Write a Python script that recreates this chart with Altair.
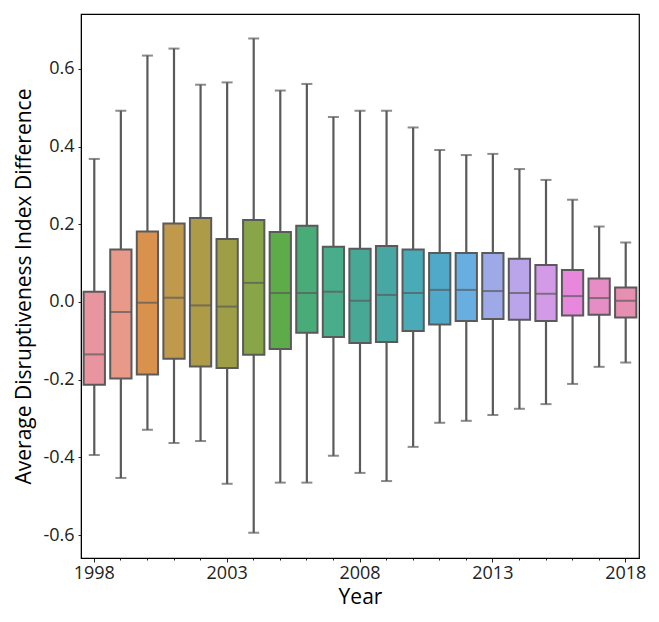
import altair as alt
import pandas as pd

years = [str(y) for y in range(1998, 2019)]
whisker_low = [-0.394, -0.453, -0.329, -0.363, -0.358, -0.468, -0.594, -0.465, -0.465, -0.396,
               -0.440, -0.461, -0.373, -0.311, -0.306, -0.291, -0.275, -0.263, -0.211, -0.167, -0.156]
q1 = [-0.213, -0.197, -0.187, -0.146, -0.166, -0.170, -0.136, -0.121, -0.079, -0.090,
      -0.106, -0.103, -0.075, -0.058, -0.049, -0.044, -0.046, -0.049, -0.035, -0.033, -0.040]
median = [-0.135, -0.026, -0.002, 0.011, -0.009, -0.012, 0.049, 0.023, 0.023, 0.026,
          0.003, 0.018, 0.023, 0.031, 0.031, 0.028, 0.023, 0.021, 0.015, 0.010, 0.003]
q3 = [0.026, 0.135, 0.181, 0.202, 0.216, 0.162, 0.211, 0.180, 0.196, 0.142,
      0.137, 0.144, 0.135, 0.126, 0.126, 0.126, 0.111, 0.095, 0.082, 0.060, 0.037]
whisker_high = [0.368, 0.492, 0.634, 0.652, 0.559, 0.565, 0.678, 0.544, 0.561, 0.476,
                0.492, 0.492, 0.449, 0.391, 0.378, 0.381, 0.342, 0.314, 0.263, 0.194, 0.153]
colors = ["#e8959f", "#e8998a", "#d8924e", "#c0994c", "#ad9b48", "#9e9e47", "#88a548",
          "#5eab4a", "#48ab78", "#49ad8b", "#48a896", "#47a7a2", "#4aabb8", "#50a9c8",
          "#69aee0", "#9ea9e8", "#baa5ea", "#d39ae8", "#e888dc", "#e78dc5", "#e68fb0"]
y_ticks = [-0.6, -0.4, -0.2, 0.0, 0.2, 0.4, 0.6]
labeled_years = ["1998", "2003", "2008", "2013", "2018"]

df = pd.DataFrame({"Year": years, "low": whisker_low, "q1": q1, "med": median,
                   "q3": q3, "high": whisker_high})

FONT = "Open Sans"
EDGE = "#5a5a5a"
test = "indexof(" + str(labeled_years).replace(" ", "") + ", datum.value) >= 0"

x = alt.X("Year:N", scale=alt.Scale(domain=years, paddingInner=0, paddingOuter=0),
          axis=alt.Axis(title="Year", labelAngle=0,
                        labelExpr=test + " ? datum.value : ''",
                        tickSize={"condition": {"test": test, "value": 4}, "value": 2},
                        tickColor="#222222", domainColor="black", labelColor="#222222",
                        labelFontSize=18, titleFontSize=21, labelFont=FONT, titleFont=FONT,
                        titleFontWeight="normal", labelPadding=2, titlePadding=4, grid=False))
yscale = alt.Scale(domain=[-0.659, 0.741], nice=False, zero=False)
yaxis = alt.Axis(title="Average Disruptiveness Index Difference", values=y_ticks,
                 labelExpr="replace(format(datum.value, '.1f'), '\u2212', '-')",
                 tickSize=3, tickColor="#222222", domainColor="black", labelColor="#222222",
                 labelFontSize=18, titleFontSize=21, labelFont=FONT, titleFont=FONT,
                 titleFontWeight="normal", labelPadding=4, titlePadding=8, grid=False)

base = alt.Chart(df)

whiskers = base.mark_rule(color=EDGE, strokeWidth=2.2).encode(
    x=x, y=alt.Y("low:Q", scale=yscale, axis=yaxis), y2="high:Q")
caps_low = base.mark_tick(color=EDGE, size=11, thickness=2, orient="horizontal").encode(
    x=x, y=alt.Y("low:Q", scale=yscale))
caps_high = base.mark_tick(color=EDGE, size=11, thickness=2, orient="horizontal").encode(
    x=x, y=alt.Y("high:Q", scale=yscale))
boxes = base.mark_bar(width={"band": 0.8}, stroke=EDGE, strokeWidth=2).encode(
    x=x, y=alt.Y("q1:Q", scale=yscale), y2="q3:Q",
    color=alt.Color("Year:N", scale=alt.Scale(domain=years, range=colors), legend=None))
medians = base.mark_tick(color=EDGE, size=21.3, thickness=2, orient="horizontal").encode(
    x=x, y=alt.Y("med:Q", scale=yscale))

chart = alt.layer(whiskers, caps_low, caps_high, boxes, medians).properties(
    width=558, height=544, padding={"left": 5, "top": 6, "right": 5, "bottom": 5}
).configure_view(stroke="black", strokeWidth=1.2)

chart.save("out.html", embed_options={"renderer": "svg", "actions": False})
